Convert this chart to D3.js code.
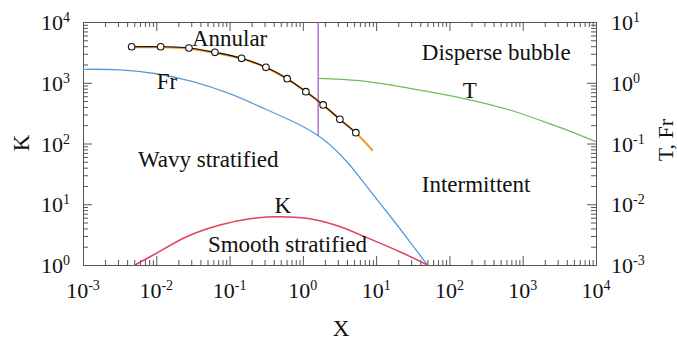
<!DOCTYPE html>
<html><head><meta charset="utf-8">
<script src="https://cdn.jsdelivr.net/npm/d3@7"></script>
<style>body{margin:0;background:#fff}svg{display:block}text{font-family:"Liberation Serif","Times New Roman",serif;fill:#111}</style>
</head><body>
<svg id="c" width="677" height="342" font-family="Liberation Serif, serif"></svg>
<script>
// ---- data ----
const xExps = [-3, -2, -1, 0, 1, 2, 3, 4];
const kExps = [0, 1, 2, 3, 4];
const tfrExps = [-3, -2, -1, 0, 1];

// Fr curve (right axis)
const frX = [0.001, 0.003162, 0.01, 0.03162, 0.1, 0.3162, 1, 1.995, 3.981, 7.943, 15.85, 31.62, 50.1];
const frV = [1.663, 1.633, 1.406, 1.042, 0.661, 0.363, 0.1905, 0.1122, 0.0501, 0.01778, 0.00617, 0.00209, 0.001];

// T curve (right axis)
const tX = [1.618, 5.98, 28.8, 153.5, 665, 2594, 10000];
const tV = [1.183, 1.081, 0.811, 0.555, 0.356, 0.2018, 0.107];

// K curve (left axis)
const kX = [0.00512, 0.0091, 0.0259, 0.0738, 0.2104, 0.4853, 1.125, 2.884, 8.2, 23.3, 50.1];
const kV = [1, 1.462, 2.924, 4.55, 5.875, 6.237, 5.875, 4.467, 2.69, 1.563, 1];

// Annular data (left axis)
const annX = [0.00461, 0.01148, 0.0279, 0.0631, 0.1459, 0.3133, 0.611, 1.099, 1.892, 3.199, 5.284];
const annK = [3917, 3917, 3733, 3170, 2523, 1795, 1167, 713, 431, 250, 151];
const annFitX = [0.00461, 0.01148, 0.0279, 0.0631, 0.1459, 0.3133, 0.611, 1.099, 1.892, 3.199, 5.284, 9.0];
const annFitK = [3850, 3850, 3650, 3120, 2500, 1790, 1160, 712, 430, 250, 150, 76];

// Transition boundary (vertical line)
const vX = 1.618;
const vKTop = 10000;
const vFrBottom = 0.135;

const labels = [
  {t: "Annular", x: 0.0306, k: 4027, a: "start"},
  {t: "Disperse bubble", x: 42, k: 2367, a: "start"},
  {t: "T", x: 189, k: 561, a: "middle"},
  {t: "Fr", x: 0.014, k: 789, a: "middle"},
  {t: "Wavy stratified", x: 0.00562, k: 41, a: "start"},
  {t: "Intermittent", x: 42, k: 15.9, a: "start"},
  {t: "K", x: 0.533, k: 7.18, a: "middle"},
  {t: "Smooth stratified", x: 0.0507, k: 1.64, a: "start"}
];

// ---- layout ----
const L = 83, R = 596, T = 22, B = 265;
const svg = d3.select("#c");
const x = d3.scaleLog().domain([1e-3, 1e4]).range([L, R]);
const yK = d3.scaleLog().domain([1, 1e4]).range([B, T]);
const yT = d3.scaleLog().domain([1e-3, 1e1]).range([B, T]);
const axisCol = "#555";
const isMajor = v => Math.abs(Math.log10(v) - Math.round(Math.log10(v))) < 1e-6;

const xt = x.ticks(), kt = yK.ticks(), tt = yT.ticks();
const gB = svg.append("g").attr("transform", `translate(0,${B})`)
  .call(d3.axisBottom(x).tickValues(xt).tickSizeInner(-5).tickSizeOuter(0).tickFormat(""));
const gTop = svg.append("g").attr("transform", `translate(0,${T})`)
  .call(d3.axisTop(x).tickValues(xt).tickSizeInner(-5).tickSizeOuter(0).tickFormat(""));
const gL = svg.append("g").attr("transform", `translate(${L},0)`)
  .call(d3.axisLeft(yK).tickValues(kt).tickSizeInner(-5).tickSizeOuter(0).tickFormat(""));
const gR = svg.append("g").attr("transform", `translate(${R},0)`)
  .call(d3.axisRight(yT).tickValues(tt).tickSizeInner(-5).tickSizeOuter(0).tickFormat(""));
[gB, gTop, gL, gR].forEach(g => {
  g.select(".domain").attr("stroke", axisCol);
  g.selectAll(".tick line").attr("stroke", axisCol);
  g.selectAll(".tick text").remove();
  g.selectAll(".tick").each(function(d) {
    const ln = d3.select(this).select("line");
    if (isMajor(d)) {
      if (ln.attr("y2") !== null && +ln.attr("y2") !== 0) ln.attr("y2", +ln.attr("y2") > 0 ? 9 : -9);
      if (ln.attr("x2") !== null && +ln.attr("x2") !== 0) ln.attr("x2", +ln.attr("x2") > 0 ? 9 : -9);
    }
  });
});

function powLabel(sel, base, exp) {
  sel.append("tspan").text(base);
  sel.append("tspan").attr("font-size", 14).attr("dy", -8).text(exp);
}
xExps.forEach(e => {
  const t = svg.append("text").attr("x", x(Math.pow(10, e))).attr("y", 298)
    .attr("text-anchor", "middle").attr("font-size", 22);
  powLabel(t, "10", e);
});
kExps.forEach(e => {
  const t = svg.append("text").attr("x", 70).attr("y", yK(Math.pow(10, e)) + 8)
    .attr("text-anchor", "end").attr("font-size", 22);
  powLabel(t, "10", e);
});
tfrExps.forEach(e => {
  const t = svg.append("text").attr("x", 611).attr("y", yT(Math.pow(10, e)) + 8)
    .attr("text-anchor", "start").attr("font-size", 22);
  powLabel(t, "10", e);
});

// axis titles
svg.append("text").attr("transform", "translate(29,143) rotate(-90)")
  .attr("text-anchor", "middle").attr("font-size", 23).text("K");
svg.append("text").attr("transform", "translate(673,140) rotate(-90)")
  .attr("text-anchor", "middle").attr("font-size", 22).text("T, Fr");
svg.append("text").attr("x", 341).attr("y", 336)
  .attr("text-anchor", "middle").attr("font-size", 23).text("X");

// curves
const cv = d3.curveCatmullRom.alpha(0.5);
const lineT = d3.line().x(d => x(d[0])).y(d => yT(d[1])).curve(cv);
const lineK = d3.line().x(d => x(d[0])).y(d => yK(d[1])).curve(cv);

svg.append("path").datum(d3.zip(frX, frV)).attr("d", lineT)
  .attr("fill", "none").attr("stroke", "#5b9bd5").attr("stroke-width", 1.3);
svg.append("path").datum(d3.zip(tX, tV)).attr("d", lineT)
  .attr("fill", "none").attr("stroke", "#6cbf55").attr("stroke-width", 1.3);
svg.append("path").datum(d3.zip(kX, kV)).attr("d", lineK)
  .attr("fill", "none").attr("stroke", "#e3405a").attr("stroke-width", 1.5);
svg.append("line").attr("x1", x(vX)).attr("x2", x(vX))
  .attr("y1", yK(vKTop)).attr("y2", yT(vFrBottom))
  .attr("stroke", "#a45ec8").attr("stroke-width", 1.3);

svg.append("path").datum(d3.zip(annFitX, annFitK)).attr("d", lineK)
  .attr("fill", "none").attr("stroke", "#f39a36").attr("stroke-width", 2.2);
svg.append("path").datum(d3.zip(annX, annK)).attr("d", lineK)
  .attr("fill", "none").attr("stroke", "#111").attr("stroke-width", 1.1);
svg.append("g").selectAll("circle").data(d3.zip(annX, annK)).join("circle")
  .attr("cx", d => x(d[0])).attr("cy", d => yK(d[1])).attr("r", 3.3)
  .attr("fill", "#fff").attr("stroke", "#111").attr("stroke-width", 1.1);

// region labels
svg.append("g").selectAll("text").data(labels).join("text")
  .attr("x", d => x(d.x)).attr("y", d => yK(d.k))
  .attr("text-anchor", d => d.a).attr("font-size", 23).text(d => d.t);
</script>
</body></html>
